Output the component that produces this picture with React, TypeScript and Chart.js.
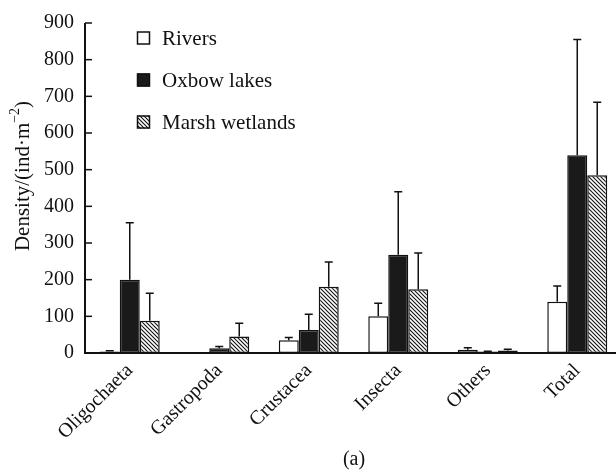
import React, { useEffect, useRef } from "react";
import { Chart, registerables } from "chart.js";

Chart.register(...registerables);

const categories = ["Oligochaeta", "Gastropoda", "Crustacea", "Insecta", "Others", "Total"];
const seriesNames = ["Rivers", "Oxbow lakes", "Marsh wetlands"];
const rivers = [4, 2, 35, 100, 9, 140];
const riversErr = [2, 0, 7, 36, 5, 43];
const oxbow = [200, 13, 63, 268, 4, 539];
const oxbowErr = [155, 5, 43, 172, 1, 316];
const marsh = [88, 45, 181, 174, 7, 485];
const marshErr = [75, 36, 67, 99, 3, 199];
const yMin = 0;
const yMax = 900;
const yStep = 100;

const FONT = "'Liberation Serif', 'Times New Roman', serif";

function makeHatch(): CanvasPattern | string {
  const c = document.createElement("canvas");
  const s = 4;
  c.width = s;
  c.height = s;
  const g = c.getContext("2d");
  if (!g) return "#888";
  g.fillStyle = "#fff";
  g.fillRect(0, 0, s, s);
  g.strokeStyle = "#111";
  g.lineWidth = 1.1;
  g.beginPath();
  g.moveTo(-1, -1);
  g.lineTo(s + 1, s + 1);
  g.moveTo(-1, s - 1);
  g.lineTo(1, s + 1);
  g.moveTo(s - 1, -1);
  g.lineTo(s + 1, 1);
  g.stroke();
  const p = g.createPattern(c, "repeat");
  return p || "#888";
}

const errorPlugin = {
  id: "errbars",
  afterDatasetsDraw(chart: any) {
    const ctx = chart.ctx;
    const y = chart.scales.y;
    ctx.save();
    ctx.strokeStyle = "#111";
    ctx.lineWidth = 1.5;
    chart.data.datasets.forEach((ds: any, i: number) => {
      const meta = chart.getDatasetMeta(i);
      meta.data.forEach((bar: any, j: number) => {
        const e = ds.errors[j];
        if (!e) return;
        const top = y.getPixelForValue(ds.data[j] + e);
        ctx.beginPath();
        ctx.moveTo(bar.x, bar.y);
        ctx.lineTo(bar.x, top);
        ctx.moveTo(bar.x - 4, top);
        ctx.lineTo(bar.x + 4, top);
        ctx.stroke();
      });
    });
    ctx.restore();
  },
};

const decorPlugin = {
  id: "decor",
  afterDraw(chart: any) {
    const ctx = chart.ctx;
    const { left, right, top, bottom } = chart.chartArea;
    const y = chart.scales.y;
    ctx.save();
    ctx.strokeStyle = "#111";
    ctx.lineWidth = 2;
    ctx.beginPath();
    ctx.moveTo(left, top);
    ctx.lineTo(left, bottom);
    ctx.lineTo(right, bottom);
    ctx.stroke();
    ctx.lineWidth = 1.5;
    y.ticks.forEach((t: any) => {
      const py = y.getPixelForValue(t.value);
      ctx.beginPath();
      ctx.moveTo(left, py);
      ctx.lineTo(left + 7, py);
      ctx.stroke();
    });

    // legend
    ctx.font = `21px ${FONT}`;
    ctx.textBaseline = "middle";
    ctx.textAlign = "left";
    const rowsY = [38, 80, 122];
    chart.data.datasets.forEach((ds: any, i: number) => {
      const cy = rowsY[i];
      ctx.fillStyle = ds.backgroundColor;
      ctx.fillRect(137, cy - 6.5, 13, 13);
      ctx.lineWidth = 1.5;
      ctx.strokeStyle = "#111";
      ctx.strokeRect(137.5, cy - 6, 12, 12);
      ctx.fillStyle = "#111";
      ctx.fillText(ds.label, 162, cy + 1);
    });

    // y title with superscript
    const parts = [
      { t: "Density/(ind\u00b7m", f: `21px ${FONT}`, dy: 0 },
      { t: "\u22122", f: `14px ${FONT}`, dy: -10 },
      { t: ")", f: `21px ${FONT}`, dy: 0 },
    ];
    let W = 0;
    parts.forEach((p) => {
      ctx.font = p.f;
      W += ctx.measureText(p.t).width;
    });
    ctx.translate(29, 176);
    ctx.rotate(-Math.PI / 2);
    ctx.textBaseline = "alphabetic";
    let x = -W / 2;
    parts.forEach((p) => {
      ctx.font = p.f;
      ctx.fillText(p.t, x, p.dy);
      x += ctx.measureText(p.t).width;
    });
    ctx.setTransform(1, 0, 0, 1, 0, 0);

    ctx.font = `20px ${FONT}`;
    ctx.textAlign = "center";
    ctx.textBaseline = "middle";
    ctx.fillText("(a)", 354, 460);
    ctx.restore();
  },
};

export default function App() {
  const ref = useRef<HTMLCanvasElement | null>(null);
  useEffect(() => {
    if (!ref.current) return;
    const hatch = makeHatch();
    const common = { borderColor: "#111", borderWidth: 1.5, borderSkipped: false as any };
    const chart = new Chart(ref.current, {
      type: "bar",
      data: {
        labels: categories,
        datasets: [
          { label: seriesNames[0], data: rivers, errors: riversErr, backgroundColor: "#ffffff", ...common } as any,
          { label: seriesNames[1], data: oxbow, errors: oxbowErr, backgroundColor: "#1a1a1a", ...common } as any,
          { label: seriesNames[2], data: marsh, errors: marshErr, backgroundColor: hatch, ...common } as any,
        ],
      },
      options: {
        animation: false,
        responsive: false,
        maintainAspectRatio: false,
        layout: { padding: { top: 20, right: 0, left: 0, bottom: 0 } },
        datasets: { bar: { categoryPercentage: 0.67, barPercentage: 1 } },
        plugins: { legend: { display: false }, tooltip: { enabled: false } },
        scales: {
          x: {
            grid: { display: false, drawTicks: false },
            border: { display: false },
            ticks: {
              color: "#111",
              font: { family: FONT, size: 20 },
              maxRotation: 45,
              minRotation: 45,
              padding: 6,
            },
            afterFit(s: any) {
              s.height = 117;
            },
          },
          y: {
            min: yMin,
            max: yMax,
            grid: { display: false, drawTicks: false },
            border: { display: false },
            ticks: { stepSize: yStep, color: "#111", font: { family: FONT, size: 20 }, padding: 11 },
            afterFit(s: any) {
              s.width = 85;
            },
          },
        },
      },
      plugins: [errorPlugin, decorPlugin],
    });
    return () => chart.destroy();
  }, []);
  return (
    <div style={{ position: "fixed", left: 0, top: 0, width: 616, height: 470, overflow: "hidden", background: "#fff" }}>
      <canvas ref={ref} width={622} height={470} style={{ width: 622, height: 470, display: "block" }} />
    </div>
  );
}
